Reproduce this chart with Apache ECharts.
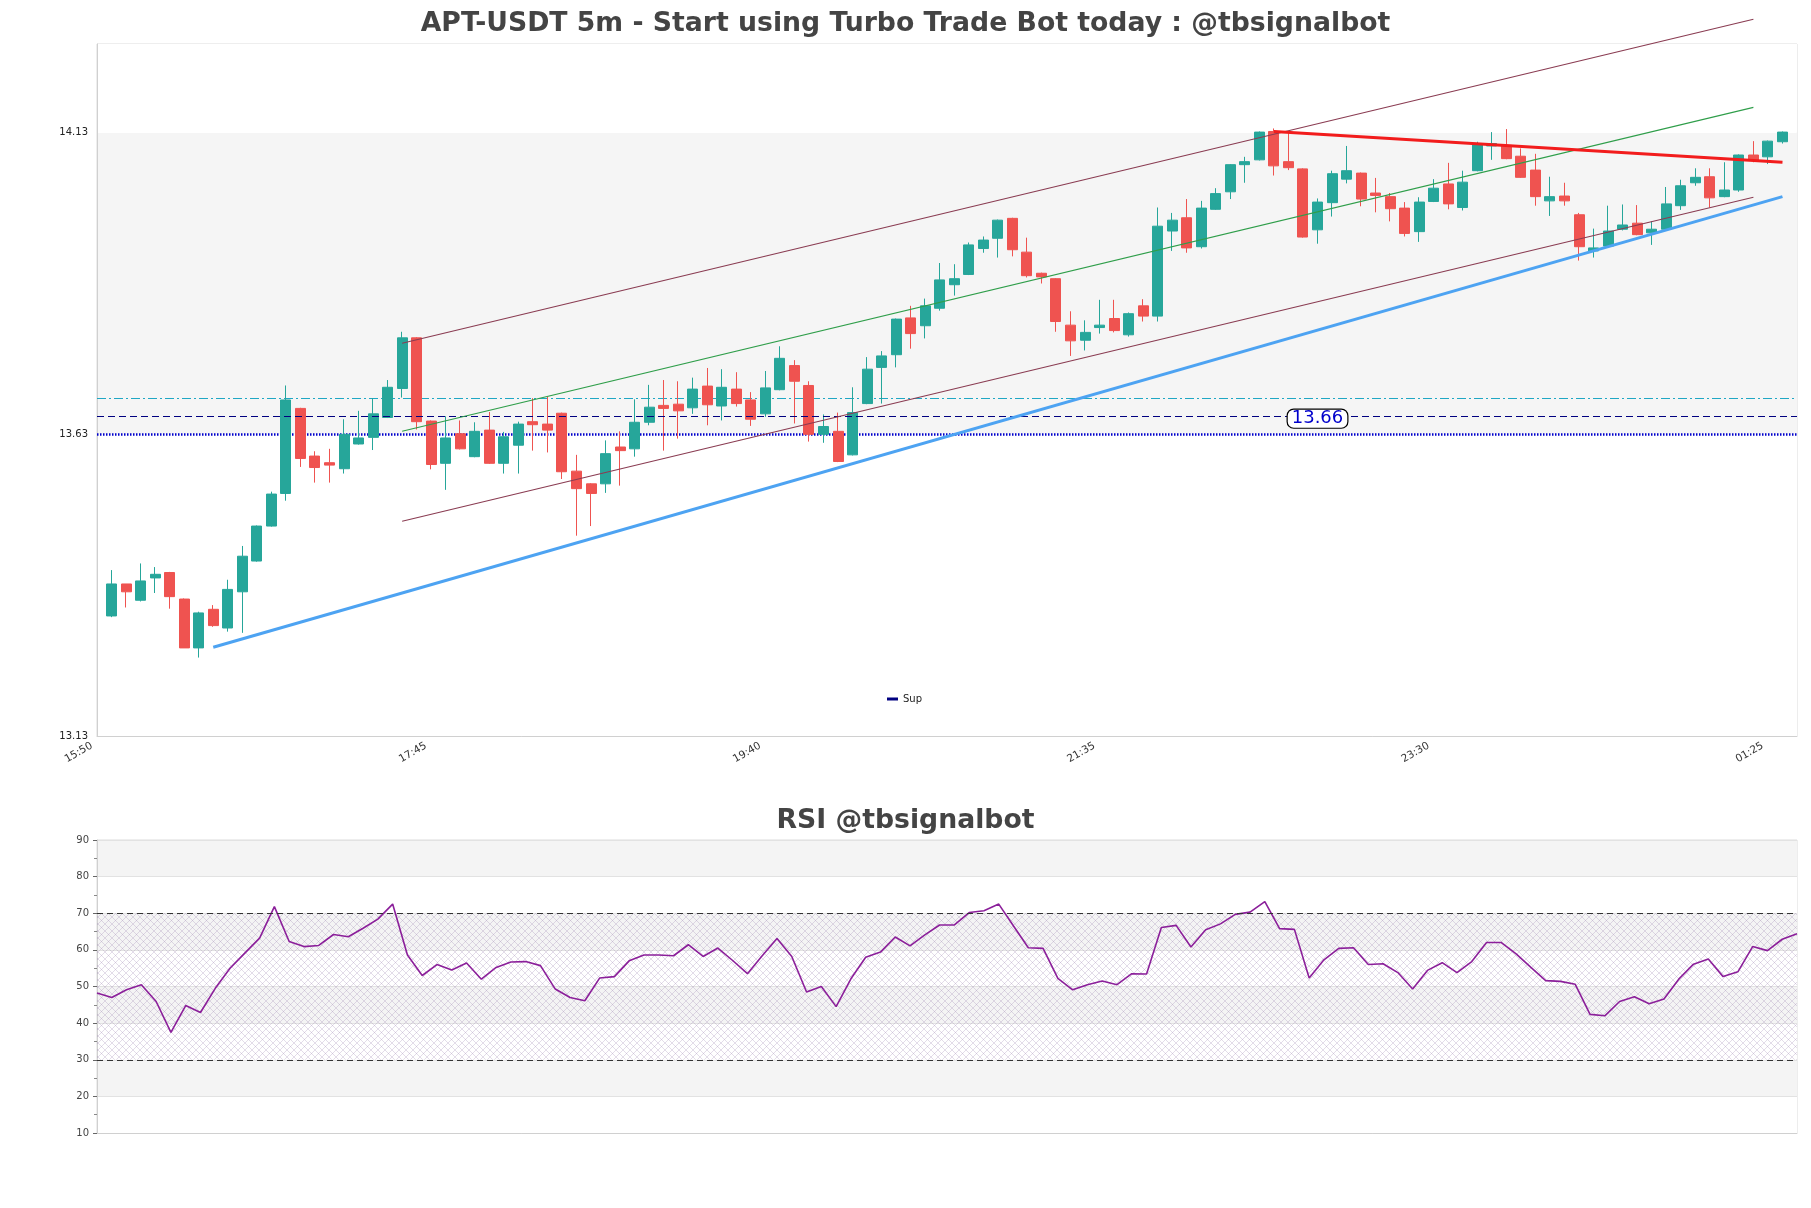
<!DOCTYPE html>
<html><head><meta charset="utf-8">
<script src="https://cdn.jsdelivr.net/npm/echarts@6/dist/echarts.min.js"></script>
<style>html,body{margin:0;padding:0;background:#fff}#c{width:1811px;height:1208px}</style>
</head><body><div id="c"></div>
<script>
// ---- data ----
const opens  = [13.329,13.382,13.355,13.392,13.401,13.357,13.276,13.340,13.309,13.369,13.420,13.478,13.532,13.673,13.594,13.583,13.573,13.614,13.625,13.658,
13.706,13.790,13.652,13.582,13.631,13.593,13.637,13.582,13.612,13.651,13.647,13.665,13.569,13.548,13.548,13.609,13.606,13.650,13.678,13.680,
13.674,13.710,13.677,13.705,13.687,13.664,13.704,13.744,13.711,13.630,13.635,13.596,13.681,13.741,13.762,13.823,13.810,13.839,13.878,13.895,
13.938,13.955,13.988,13.932,13.897,13.888,13.811,13.786,13.807,13.822,13.795,13.843,13.826,13.967,13.989,13.941,14.003,14.032,14.077,14.085,
14.132,14.082,14.070,13.969,14.014,14.053,14.063,14.030,14.024,14.005,13.966,14.016,14.045,14.006,14.067,14.108,14.109,14.091,14.068,14.017,
14.025,13.994,13.934,13.942,13.970,13.980,13.964,13.970,14.009,14.047,14.057,14.024,14.035,14.093,14.090,14.115];
const closes = [13.382,13.369,13.387,13.398,13.361,13.276,13.334,13.313,13.373,13.428,13.478,13.531,13.687,13.590,13.575,13.579,13.630,13.624,13.664,13.708,
13.790,13.651,13.580,13.624,13.606,13.635,13.582,13.626,13.647,13.646,13.637,13.568,13.540,13.532,13.598,13.603,13.650,13.675,13.673,13.669,
13.705,13.679,13.708,13.681,13.655,13.707,13.756,13.718,13.630,13.643,13.585,13.666,13.738,13.760,13.821,13.797,13.843,13.886,13.888,13.944,
13.952,13.985,13.936,13.893,13.891,13.817,13.785,13.799,13.811,13.802,13.830,13.826,13.975,13.985,13.939,14.005,14.029,14.077,14.082,14.131,
14.075,14.072,13.957,14.015,14.062,14.067,14.020,14.026,14.004,13.963,14.015,14.038,14.012,14.048,14.111,14.112,14.087,14.056,14.024,14.024,
14.017,13.941,13.939,13.967,13.977,13.961,13.970,14.012,14.042,14.056,14.022,14.035,14.093,14.084,14.116,14.131];
const lows   = [13.327,13.343,13.353,13.367,13.341,13.276,13.260,13.311,13.303,13.301,13.419,13.477,13.520,13.576,13.550,13.550,13.565,13.613,13.604,13.657,
13.691,13.638,13.572,13.538,13.605,13.592,13.581,13.565,13.565,13.603,13.600,13.556,13.462,13.478,13.533,13.545,13.593,13.645,13.603,13.623,
13.664,13.645,13.653,13.676,13.644,13.659,13.703,13.648,13.618,13.616,13.584,13.595,13.680,13.681,13.741,13.772,13.789,13.835,13.860,13.894,
13.931,13.923,13.925,13.890,13.880,13.800,13.760,13.769,13.797,13.799,13.792,13.817,13.817,13.934,13.931,13.938,14.002,14.020,14.047,14.084,
14.059,14.068,13.956,13.946,13.991,14.046,14.008,13.998,13.983,13.958,13.949,14.015,14.003,14.001,14.066,14.085,14.086,14.055,14.009,13.992,
14.009,13.918,13.923,13.941,13.968,13.960,13.944,13.969,14.002,14.042,14.006,14.023,14.032,14.081,14.078,14.112];
const highs  = [13.405,13.382,13.416,13.410,13.402,13.358,13.336,13.347,13.389,13.445,13.479,13.535,13.711,13.674,13.602,13.606,13.655,13.669,13.690,13.720,
13.800,13.791,13.653,13.660,13.653,13.650,13.667,13.634,13.651,13.690,13.692,13.666,13.596,13.549,13.620,13.635,13.688,13.712,13.720,13.718,
13.724,13.740,13.738,13.733,13.700,13.735,13.776,13.753,13.718,13.663,13.666,13.708,13.758,13.768,13.822,13.843,13.855,13.914,13.912,13.948,
13.958,13.986,13.989,13.956,13.898,13.889,13.834,13.819,13.853,13.853,13.832,13.854,14.006,13.997,14.020,14.017,14.038,14.078,14.090,14.132,
14.137,14.132,14.071,14.021,14.067,14.108,14.064,14.055,14.030,14.015,14.023,14.053,14.080,14.067,14.115,14.131,14.136,14.104,14.095,14.057,
14.047,13.997,13.971,14.009,14.011,14.010,13.983,14.040,14.052,14.071,14.071,14.081,14.094,14.116,14.117,14.132];
const rsiValues = [48.2,47.0,49.1,50.5,45.9,37.5,44.8,42.9,49.5,55.0,59.1,63.2,71.8,62.3,60.9,61.2,64.2,63.6,65.9,68.4,
72.5,58.6,53.0,56.0,54.5,56.4,52.0,55.2,56.7,56.8,55.7,49.3,47.0,46.1,52.3,52.7,57.0,58.6,58.6,58.4,
61.4,58.2,60.5,57.1,53.5,58.4,63.1,58.2,48.5,50.0,44.5,52.1,58.0,59.4,63.5,61.1,64.1,66.8,66.8,70.2,
70.7,72.5,66.5,60.6,60.4,52.2,49.1,50.5,51.5,50.5,53.5,53.4,66.1,66.7,60.8,65.5,67.1,69.7,70.3,73.2,
65.8,65.6,52.3,57.3,60.4,60.6,56.0,56.2,53.8,49.3,54.4,56.5,53.8,56.8,62.0,62.0,58.9,55.2,51.6,51.4,
50.6,42.4,42.0,45.9,47.2,45.3,46.6,52.0,56.1,57.5,52.7,54.0,60.9,59.8,62.9,64.4];

const axisStartMinutes = 15*60 + 50;   // 15:50, first axis category
const axisCategoryCount = 118;          // 15:50 ... 01:35
const priceTicks = [13.13, 13.63, 14.13];
const priceMax = 14.277;
const rsiTicks = [10, 90];
const rsiBands = [30, 70];

const supportTrend = [['16:30', 13.277], ['01:30', 14.024]];
const resistTrend  = [['22:35', 14.132], ['01:30', 14.081]];
const channelUpper = [['17:35', 13.781], ['01:20', 14.318]];
const channelMid   = [['17:35', 13.635], ['01:20', 14.172]];
const channelLower = [['17:35', 13.486], ['01:20', 14.023]];
const cyanLevel = 13.685;
const supLevel = 13.656;
const dottedLevel = 13.634;
const supLabelTime = '22:50';

// ---- build ----
function fmt(m){ m = m % 1440; const h = Math.floor(m/60), mm = m%60; return String(h).padStart(2,'0')+':'+String(mm).padStart(2,'0'); }
const categories = [];
for (let k = 0; k < axisCategoryCount; k++) categories.push(fmt(axisStartMinutes + 5*k));
const candleData = categories.map((t, k) => {
  const i = k - 1;
  return (i >= 0 && i < opens.length) ? [opens[i], closes[i], lows[i], highs[i]] : '-';
});
const rsiCategories = categories.slice(1, 1 + rsiValues.length);

function hatch(){
  const c = document.createElement('canvas'); c.width = c.height = 7;
  const g = c.getContext('2d');
  g.strokeStyle = 'rgba(160,135,180,0.42)'; g.lineWidth = 0.7;
  g.beginPath(); g.moveTo(0,0); g.lineTo(7,7); g.moveTo(7,0); g.lineTo(0,7); g.stroke();
  return c;
}

const FONT = 'DejaVu Sans';
const chart = echarts.init(document.getElementById('c'));
function trend(name, data, color, width){
  return { name, type:'line', data, xAxisIndex:0, yAxisIndex:0, symbol:'none', clip:false, silent:true, z:5,
    lineStyle:{ color, width }, emphasis:{disabled:true} };
}
chart.setOption({
  animation:false,
  backgroundColor:'#fff',
  textStyle:{ fontFamily: FONT },
  title:[
    { text:'APT-USDT 5m - Start using Turbo Trade Bot today : @tbsignalbot', left:'center', top:6,
      textStyle:{ fontFamily:FONT, fontWeight:'bold', fontSize:26.7, color:'#444' } },
    { text:'RSI @tbsignalbot', left:'center', top:803,
      textStyle:{ fontFamily:FONT, fontWeight:'bold', fontSize:26.7, color:'#444' } }
  ],
  legend:{ data:[{name:'Sup', icon:'rect'}], left:882, top:689, itemWidth:11, itemHeight:3, itemGap:4,
    textStyle:{ fontFamily:FONT, fontSize:10, color:'#222' }, selectedMode:false },
  grid:[
    { left:97, right:14, top:44, height:692, show:true, borderColor:'#dcdcdc', borderWidth:1, backgroundColor:'transparent' },
    { left:97, right:14, top:840, height:293, show:true, borderColor:'#dcdcdc', borderWidth:1 }
  ],
  xAxis:[
    { type:'category', gridIndex:0, data:categories, boundaryGap:false,
      axisLine:{ lineStyle:{ color:'#d0d0d0' } }, axisTick:{ show:false },
      axisLabel:{ interval:22, rotate:30, fontSize:10.5, color:'#333', fontFamily:FONT, margin:6, padding:[0,6,0,0] },
      splitLine:{ show:false } },
    { type:'category', gridIndex:1, data:rsiCategories, boundaryGap:false,
      axisLine:{ lineStyle:{ color:'#d0d0d0' } }, axisTick:{ show:false }, axisLabel:{ show:false }, splitLine:{ show:false } }
  ],
  yAxis:[
    { type:'value', gridIndex:0, min:priceTicks[0], max:priceMax, interval:priceTicks[1]-priceTicks[0], scale:true,
      axisLine:{ show:true, lineStyle:{ color:'#d0d0d0' } }, axisTick:{ show:false },
      axisLabel:{ fontSize:10, color:'#222', fontFamily:FONT, showMaxLabel:false, margin:9, formatter:v=>v.toFixed(2) },
      splitLine:{ show:false },
      splitArea:{ show:true, areaStyle:{ color:['#ffffff','#f5f5f5'] } } },
    { type:'value', gridIndex:1, min:rsiTicks[0], max:rsiTicks[1], interval:10,
      axisLine:{ show:true, lineStyle:{ color:'#d0d0d0' } },
      axisTick:{ show:true, length:4, lineStyle:{ color:'#666' } },
      minorTick:{ show:true, splitNumber:2, length:3, lineStyle:{ color:'#888' } },
      axisLabel:{ fontSize:10, color:'#444', fontFamily:FONT, margin:8 },
      splitLine:{ show:true, lineStyle:{ color:'#e2e2e2', width:1 } },
      splitArea:{ show:true, areaStyle:{ color:['#ffffff','#f4f4f4'] } } }
  ],
  series:[
    { name:'price', type:'candlestick', xAxisIndex:0, yAxisIndex:0, data:candleData, barWidth:10.5, z:3,
      itemStyle:{ color:'#26a69a', color0:'#ef5350', borderColor:'#26a69a', borderColor0:'#ef5350', borderWidth:1 },
      markLine:{ silent:true, symbol:'none', label:{show:false}, z:2,
        data:[
          { yAxis:cyanLevel, lineStyle:{ color:'#1fa7c4', width:1, type:[9,3,2,3] } },
          { yAxis:dottedLevel, lineStyle:{ color:'#0000cc', width:2.5, type:[1.5,1.5] } }
        ] } },
    { name:'Sup', type:'line', xAxisIndex:0, yAxisIndex:0, data:[], symbol:'none', color:'#000080',
      lineStyle:{ color:'#000080' },
      markLine:{ silent:true, symbol:'none', label:{show:false},
        data:[{ yAxis:supLevel, lineStyle:{ color:'#000080', width:1.2, type:[7,4] } }] },
      markPoint:{ silent:true, symbol:'rect', symbolSize:[0,0],
        data:[{ coord:[supLabelTime, supLevel],
          label:{ show:true, position:'inside', formatter: supLevel.toFixed(2), color:'#0000cc', fontSize:18, fontFamily:FONT,
            backgroundColor:'#fff', borderColor:'#000', borderWidth:1.2, borderRadius:6, padding:[0,4,0,4], lineHeight:18 } }] } },
    trend('upper', channelUpper, '#8a3c52', 1.2),
    trend('mid', channelMid, '#2f9e4a', 1.1),
    trend('lower', channelLower, '#8a3c52', 1.2),
    trend('support', supportTrend, '#4da3f2', 3),
    trend('resist', resistTrend, '#f21c1c', 3),
    { name:'RSI', type:'line', xAxisIndex:1, yAxisIndex:1, data:rsiValues, symbol:'none', z:4,
      lineStyle:{ color:'#8b1f9a', width:1.6 }, emphasis:{disabled:true},
      markArea:{ silent:true, itemStyle:{ color:{ image:hatch(), repeat:'repeat' } },
        data:[[{ yAxis:rsiBands[0] }, { yAxis:rsiBands[1] }]] },
      markLine:{ silent:true, symbol:'none', label:{show:false},
        lineStyle:{ color:'#333', width:1.1, type:[6,4] },
        data:[{ yAxis:rsiBands[1] }, { yAxis:rsiBands[0] }] } }
  ]
});
</script></body></html>
